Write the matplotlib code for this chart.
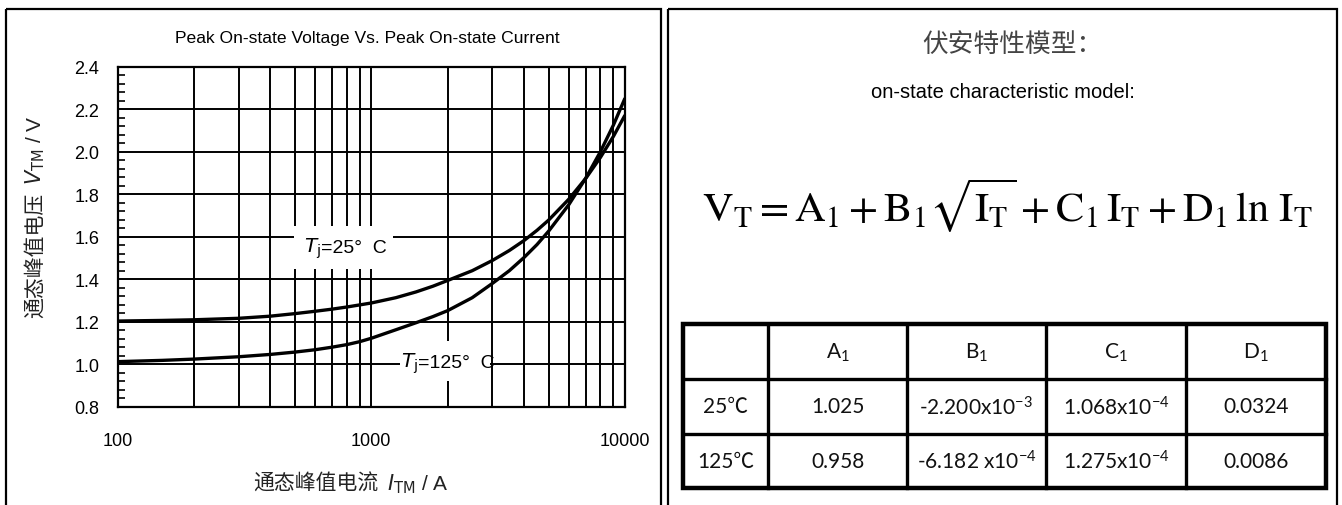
import matplotlib
matplotlib.use("Agg")
import matplotlib.pyplot as plt
from matplotlib.patches import Rectangle
from matplotlib.lines import Line2D
from matplotlib.ticker import FixedLocator, MultipleLocator, LogLocator, NullFormatter, FixedFormatter

# ---- curve data: peak on-state voltage (V) vs peak on-state current (A)
current_a = [100, 150, 200, 300, 400, 500, 600, 700, 800, 900, 1000, 1250, 1500,
             1750, 2000, 2500, 3000, 3500, 4000, 4500, 5000, 6000, 7000, 8000, 9000, 10000]
vtm_25c = [1.203, 1.206, 1.209, 1.216, 1.226, 1.238, 1.249, 1.259, 1.269, 1.279, 1.288,
           1.313, 1.340, 1.367, 1.394, 1.440, 1.488, 1.535, 1.582, 1.630, 1.678, 1.776,
           1.874, 1.973, 2.072, 2.172]
vtm_125c = [1.012, 1.018, 1.024, 1.035, 1.046, 1.057, 1.068, 1.080, 1.092, 1.106, 1.122,
            1.162, 1.195, 1.224, 1.252, 1.313, 1.380, 1.440, 1.502, 1.563, 1.626, 1.750,
            1.875, 2.000, 2.125, 2.252]

y_ticks = [0.8, 1.0, 1.2, 1.4, 1.6, 1.8, 2.0, 2.2, 2.4]
x_ticks = [100, 1000, 10000]
x_tick_labels = ["100", "1000", "10000"]

# ---- model coefficient table
col_headers = ["", "A$_1$", "B$_1$", "C$_1$", "D$_1$"]
row_labels = ["25\u2103", "125\u2103"]
coef_25c = ["1.025", "-2.200x10$^{-3}$", "1.068x10$^{-4}$", "0.0324"]
coef_125c = ["0.958", "-6.182 x10$^{-4}$", "1.275x10$^{-4}$", "0.0086"]

plt.rcParams["mathtext.fontset"] = "custom"
plt.rcParams["mathtext.rm"] = "Lato"
plt.rcParams["mathtext.it"] = "Lato:italic"
plt.rcParams["mathtext.bf"] = "Lato:bold"

W, H = 1342, 506
fig = plt.figure(figsize=(W / 100, H / 100), dpi=100)
fig.patch.set_facecolor("white")

# overlay in pixel coordinates for panel frames, titles and the table
ov = fig.add_axes([0, 0, 1, 1], zorder=0)
ov.set_xlim(0, W)
ov.set_ylim(H, 0)
ov.axis("off")

def frame(x0, y0, x1, y1, lw):
    ov.add_patch(Rectangle((x0, y0), x1 - x0, y1 - y0, fill=False, ec="black", lw=lw))

frame(6, 10, 661, H + 5, 1.6)
frame(668, 10, 1337, H + 5, 1.6)

sans = ["Liberation Sans", "DejaVu Sans"]
cjk = ["Noto Sans CJK SC", "Liberation Sans", "DejaVu Sans"]

# ---- left panel: V-I characteristic
AX_L, AX_R, AX_T, AX_B = 117.5, 625.0, 67.7, 407.7
ax = fig.add_axes([AX_L / W, 1 - AX_B / H, (AX_R - AX_L) / W, (AX_B - AX_T) / H], zorder=1)
ax.set_xscale("log")
ax.set_xlim(100, 10000)
ax.set_ylim(0.8, 2.4)

ax.plot(current_a, vtm_25c, color="black", lw=2.4, solid_capstyle="butt", zorder=3)
ax.plot(current_a, vtm_125c, color="black", lw=2.4, solid_capstyle="butt", zorder=3)

ax.xaxis.set_major_locator(FixedLocator(x_ticks))
ax.xaxis.set_major_formatter(FixedFormatter(x_tick_labels))
ax.xaxis.set_minor_locator(LogLocator(base=10, subs=range(2, 10)))
ax.xaxis.set_minor_formatter(NullFormatter())
ax.yaxis.set_major_locator(FixedLocator(y_ticks))
ax.yaxis.set_major_formatter(FixedFormatter([f"{v:.1f}" for v in y_ticks]))
ax.yaxis.set_minor_locator(MultipleLocator(0.04))

ax.grid(True, which="major", color="black", lw=1.4)
ax.grid(True, which="minor", axis="x", color="black", lw=1.4)
ax.tick_params(axis="x", which="both", length=0, pad=18, labelsize=13)
ax.tick_params(axis="y", which="major", length=0, pad=13, labelsize=13)
ax.tick_params(axis="y", which="minor", direction="in", length=5, width=1.2, left=True)
for lab in ax.get_xticklabels() + ax.get_yticklabels():
    lab.set_fontfamily(sans)
for sp in ax.spines.values():
    sp.set_linewidth(1.6)

def to_axes(px, py):
    return (px - AX_L) / (AX_R - AX_L), (AX_B - py) / (AX_B - AX_T)

# white boxes behind the curve labels
def label_box(x0, y0, x1, y1):
    fx0, fy0 = to_axes(x0, y1)
    fx1, fy1 = to_axes(x1, y0)
    ax.add_patch(Rectangle((fx0, fy0), fx1 - fx0, fy1 - fy0, transform=ax.transAxes,
                           fc="white", ec="none", zorder=2.5))

def curve_label(split_x, base_y, temp_text):
    fx, fy = to_axes(split_x, base_y)
    ax.text(fx, fy, r"$T_{\mathrm{j}}$", transform=ax.transAxes, ha="right",
            va="baseline", fontsize=14.5, math_fontfamily="dejavusans", zorder=4)
    ax.text(fx, fy, temp_text, transform=ax.transAxes, ha="left",
            va="baseline", fontsize=14, family=sans, zorder=4)

label_box(294, 227, 393, 270)
label_box(400, 342, 490, 382)
curve_label(321, 253, "=25°  C")
curve_label(418, 368, "=125°  C")

ov.text(367, 38, "Peak On-state Voltage Vs. Peak On-state Current", ha="center",
        va="center", fontsize=12.6, family=sans)

# x label: Chinese part plus symbol part
ov.text(378, 490, "通态峰值电流", ha="right", va="baseline", fontsize=15,
        family=cjk, color="#222222")
ov.text(387, 490, r"$I_{\mathrm{TM}}$ / A", ha="left", va="baseline", fontsize=15,
        math_fontfamily="dejavusans", family=sans, color="#222222")

# y label, rotated, same split
ov.text(41, 193, "通态峰值电压", ha="right", va="baseline", rotation=90,
        rotation_mode="anchor", fontsize=15, family=cjk, color="#222222")
ov.text(41, 185, r"$V_{\mathrm{TM}}$ / V", ha="left", va="baseline", rotation=90,
        rotation_mode="anchor", fontsize=15, math_fontfamily="dejavusans",
        family=sans, color="#222222")

# ---- right panel: model equation and coefficients
ov.text(1012, 45, "伏安特性模型：", ha="center", va="center", fontsize=18.5,
        family=cjk, color="#444444")
ov.text(1003, 92, "on-state characteristic model:", ha="center", va="center",
        fontsize=14.5, family=sans)
ov.text(1007, 222,
        r"$\mathrm{V}_\mathrm{T} = \mathrm{A}_1 + \mathrm{B}_1\sqrt{\mathrm{I}_\mathrm{T}}"
        r" + \mathrm{C}_1\,\mathrm{I}_\mathrm{T} + \mathrm{D}_1\,\ln\,\mathrm{I}_\mathrm{T}$",
        ha="center", va="baseline", fontsize=30.5, math_fontfamily="stix")

col_x = [683, 768, 907, 1046, 1186, 1326]
row_y = [325, 380, 435, 489]
for x in col_x[1:-1]:
    ov.add_line(Line2D([x, x], [row_y[0], row_y[-1]], color="black", lw=2.4))
for y in row_y[1:-1]:
    ov.add_line(Line2D([col_x[0], col_x[-1]], [y, y], color="black", lw=2.4))
ov.add_patch(Rectangle((col_x[0], row_y[0]), col_x[-1] - col_x[0], row_y[-1] - row_y[0],
                       fill=False, ec="black", lw=3.2))

table_font = ["Lato", "Noto Sans CJK SC", "DejaVu Sans"]
rows = [col_headers, [row_labels[0]] + coef_25c, [row_labels[1]] + coef_125c]
for r, cells in enumerate(rows):
    yc = (row_y[r] + row_y[r + 1]) / 2
    for c, txt in enumerate(cells):
        if not txt:
            continue
        xc = (col_x[c] + col_x[c + 1]) / 2
        ov.text(xc, yc, txt, ha="center", va="center", fontsize=15,
                family=table_font, color="#111111")

fig.savefig("out.png", dpi=100, facecolor="white")
